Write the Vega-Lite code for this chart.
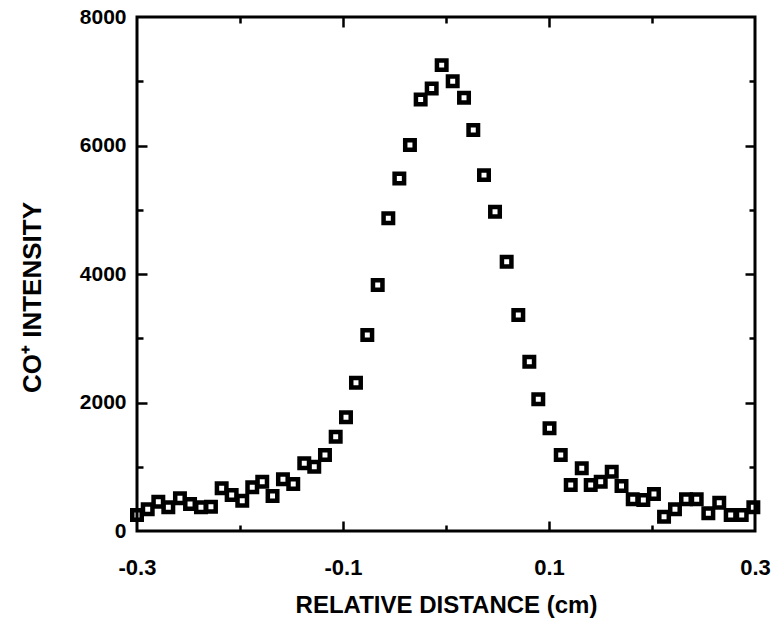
{
  "$schema": "https://vega.github.io/schema/vega-lite/v6.json",
  "autosize": "none",
  "width": 618,
  "height": 514,
  "padding": {"left": 137, "top": 17, "right": 23, "bottom": 94},
  "background": "white",
  "config": {
    "font": "Liberation Sans",
    "view": {"stroke": "black", "strokeWidth": 3},
    "axis": {
      "grid": false,
      "domain": false,
      "labelFont": "Liberation Sans",
      "labelFontWeight": "bold",
      "labelFontSize": 21,
      "labelColor": "black",
      "titleFont": "Liberation Sans",
      "titleFontWeight": "bold",
      "titleFontSize": 24,
      "titleColor": "black",
      "tickColor": "black",
      "tickWidth": 2.5
    }
  },
  "data": {
    "values": [
      {"d": -0.3, "c": 250},
      {"d": -0.2896, "c": 338},
      {"d": -0.2793, "c": 456},
      {"d": -0.2696, "c": 369},
      {"d": -0.2583, "c": 509},
      {"d": -0.2485, "c": 420},
      {"d": -0.2379, "c": 369},
      {"d": -0.2282, "c": 378},
      {"d": -0.2178, "c": 664},
      {"d": -0.2081, "c": 560},
      {"d": -0.1978, "c": 471},
      {"d": -0.1881, "c": 680},
      {"d": -0.1784, "c": 767},
      {"d": -0.1684, "c": 545},
      {"d": -0.1583, "c": 804},
      {"d": -0.1483, "c": 731},
      {"d": -0.1376, "c": 1053},
      {"d": -0.1279, "c": 1000},
      {"d": -0.1175, "c": 1183},
      {"d": -0.1071, "c": 1467},
      {"d": -0.0971, "c": 1769},
      {"d": -0.0874, "c": 2308},
      {"d": -0.0764, "c": 3050},
      {"d": -0.0663, "c": 3828},
      {"d": -0.056, "c": 4866},
      {"d": -0.0453, "c": 5488},
      {"d": -0.035, "c": 6006},
      {"d": -0.0246, "c": 6717},
      {"d": -0.0139, "c": 6888},
      {"d": -0.0042, "c": 7251},
      {"d": 0.0065, "c": 6999},
      {"d": 0.0175, "c": 6742},
      {"d": 0.0265, "c": 6240},
      {"d": 0.0369, "c": 5539},
      {"d": 0.0476, "c": 4968},
      {"d": 0.0589, "c": 4190},
      {"d": 0.0702, "c": 3361},
      {"d": 0.0809, "c": 2634},
      {"d": 0.0896, "c": 2049},
      {"d": 0.1005, "c": 1598},
      {"d": 0.1114, "c": 1183},
      {"d": 0.1211, "c": 716},
      {"d": 0.1318, "c": 976},
      {"d": 0.1405, "c": 716},
      {"d": 0.1502, "c": 767},
      {"d": 0.1609, "c": 923},
      {"d": 0.1704, "c": 700},
      {"d": 0.1813, "c": 493},
      {"d": 0.1916, "c": 482},
      {"d": 0.2019, "c": 576},
      {"d": 0.2117, "c": 222},
      {"d": 0.2223, "c": 338},
      {"d": 0.233, "c": 493},
      {"d": 0.2434, "c": 493},
      {"d": 0.2547, "c": 275},
      {"d": 0.2653, "c": 440},
      {"d": 0.2764, "c": 249},
      {"d": 0.2871, "c": 249},
      {"d": 0.2984, "c": 369}
    ]
  },
  "layer": [
    {
      "mark": {"type": "point", "shape": "square", "filled": false, "size": 90, "strokeWidth": 4.5, "color": "black", "opacity": 1, "clip": false},
      "encoding": {
        "x": {"field": "d", "type": "quantitative", "scale": {"domain": [-0.3, 0.3], "nice": false, "zero": false},
          "axis": {"orient": "bottom", "values": [-0.3, -0.1, 0.1, 0.3], "labelExpr": "datum.value < 0 ? '-' + format(-datum.value, '.1f') : format(datum.value, '.1f')", "ticks": false, "labelFontSize": 22, "labelPadding": 26, "labelFlush": false, "title": "RELATIVE DISTANCE (cm)", "titlePadding": 15}},
        "y": {"field": "c", "type": "quantitative", "scale": {"domain": [0, 8000], "nice": false},
          "axis": {"orient": "left", "values": [0, 2000, 4000, 6000, 8000], "format": "d", "ticks": false, "labelPadding": 11, "labelFlush": false, "title": "CO⁺ INTENSITY", "titleFontSize": 26, "titlePadding": 34, "titleY": 280}}
      }
    },
    {
      "mark": {"type": "point", "opacity": 0},
      "encoding": {
        "x": {"field": "d", "type": "quantitative", "axis": {"orient": "bottom", "values": [-0.1, 0.1], "labels": false, "tickSize": -10, "title": null}},
        "y": {"field": "c", "type": "quantitative", "axis": {"orient": "left", "values": [2000, 4000, 6000], "labels": false, "tickSize": -10, "title": null}}
      }
    },
    {
      "mark": {"type": "point", "opacity": 0},
      "encoding": {
        "x": {"field": "d", "type": "quantitative", "axis": {"orient": "bottom", "values": [-0.2, 0, 0.2], "labels": false, "tickSize": -6, "title": null}},
        "y": {"field": "c", "type": "quantitative", "axis": {"orient": "left", "values": [1000, 3000, 5000, 7000], "labels": false, "tickSize": -6, "title": null}}
      }
    },
    {
      "mark": {"type": "point", "opacity": 0},
      "encoding": {
        "x": {"field": "d", "type": "quantitative", "axis": {"orient": "top", "values": [-0.1, 0.1], "labels": false, "tickSize": -10, "title": null}},
        "y": {"field": "c", "type": "quantitative", "axis": {"orient": "right", "values": [2000, 4000, 6000], "labels": false, "tickSize": -10, "title": null}}
      }
    },
    {
      "mark": {"type": "point", "opacity": 0},
      "encoding": {
        "x": {"field": "d", "type": "quantitative", "axis": {"orient": "top", "values": [-0.2, 0, 0.2], "labels": false, "tickSize": -6, "title": null}},
        "y": {"field": "c", "type": "quantitative", "axis": {"orient": "right", "values": [1000, 3000, 5000, 7000], "labels": false, "tickSize": -6, "title": null}}
      }
    }
  ],
  "resolve": {"axis": {"x": "independent", "y": "independent"}}
}
